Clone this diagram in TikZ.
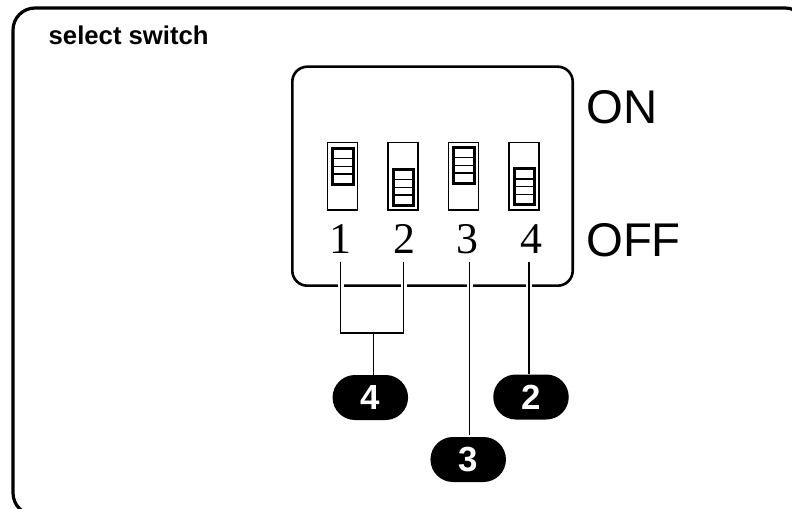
\documentclass[tikz,border=0pt]{standalone}
\usepackage{fontspec}
\setmainfont{Liberation Sans}
\newfontfamily\digitfont{Liberation Serif}
\usetikzlibrary{shapes.misc}
\tikzset{
  frameline/.style={line width=3.2bp},
  boxline/.style={line width=2.6bp},
  leader/.style={line width=1.3bp},
  halo/.style={white,line width=6bp},
  slot/.style={line width=1.1bp},
  thumb/.style={line width=3bp},
  rib/.style={line width=1.1bp},
  pill/.style={rounded rectangle,fill=black,text=white,minimum width=75.5bp,minimum height=45bp,inner sep=0pt,font=\bfseries\fontsize{35}{35}\selectfont},
  digit/.style={anchor=base,inner sep=0pt,font=\digitfont\fontsize{44}{44}\selectfont},
  bigword/.style={anchor=base west,inner sep=0pt,font=\fontsize{47.5}{47.5}\selectfont}
}
\begin{document}
\begin{tikzpicture}[x=1bp,y=-1bp]
\useasboundingbox (0,0) rectangle (792,509);
\draw[frameline,rounded corners=22bp] (13,8) rectangle (807,515); % goes off the page on the right and at the bottom
\node[anchor=base west,inner sep=0pt,font=\bfseries\fontsize{25.8}{25.8}\selectfont] (title) at (48.5,45) {select switch};

\draw[boxline,rounded corners=15bp] (292.3,66.7) rectangle (572.7,285.7);
\node[bigword] (on) at (586,123.3) {ON};
\node[bigword] (off) at (586,256.7) {OFF};

% the four switches: slot x, thumb top
\foreach \sx/\ty in {327.5/147,388/168,448.5/146,509/167.5} {
  \draw[slot] (\sx,142.5) rectangle ++(30,67.5);
  \draw[thumb] (\sx+5,\ty+1.5) rectangle ++(20.5,36);
  \foreach \dy in {11.5,19.2,27} \draw[rib] (\sx+5,\ty+\dy) -- ++(20.5,0);
}

\node[digit] (d1) at (340,254) {1};
\node[digit] (d2) at (404,254) {2};
\node[digit] (d3) at (467.3,254) {3};
\node[digit] (d4) at (531.7,254) {4};

\node[pill] (p4) at (370.3,397.5) {4};
\node[pill] (p3) at (468.2,459.5) {3};
\node[pill] (p2) at (531,397) {2};

\coordinate (t1) at (340.7,262);
\coordinate (t2) at (403.7,262);
\coordinate (t3) at (469.8,262);
\coordinate (t4) at (529,262);
\coordinate (b1) at (340.7,333);
\coordinate (b2) at (403.7,333);
\coordinate (s4) at (373.3,333);

% white gaps where the lines cross the box edge
\foreach \c in {t1,t2,t3,t4} \draw[halo] (\c |- 0,283) -- (\c |- 0,288.5);

\draw[leader] (t1) -- (b1) -- (b2) -- (t2);
\draw[leader] (s4) -- (s4 |- p4.north);
\draw[leader,shorten >=2bp] (t3) -- (t3 |- p3.north);
\draw[leader] (t4) -- (t4 |- p2.north);
\end{tikzpicture}
\end{document}
